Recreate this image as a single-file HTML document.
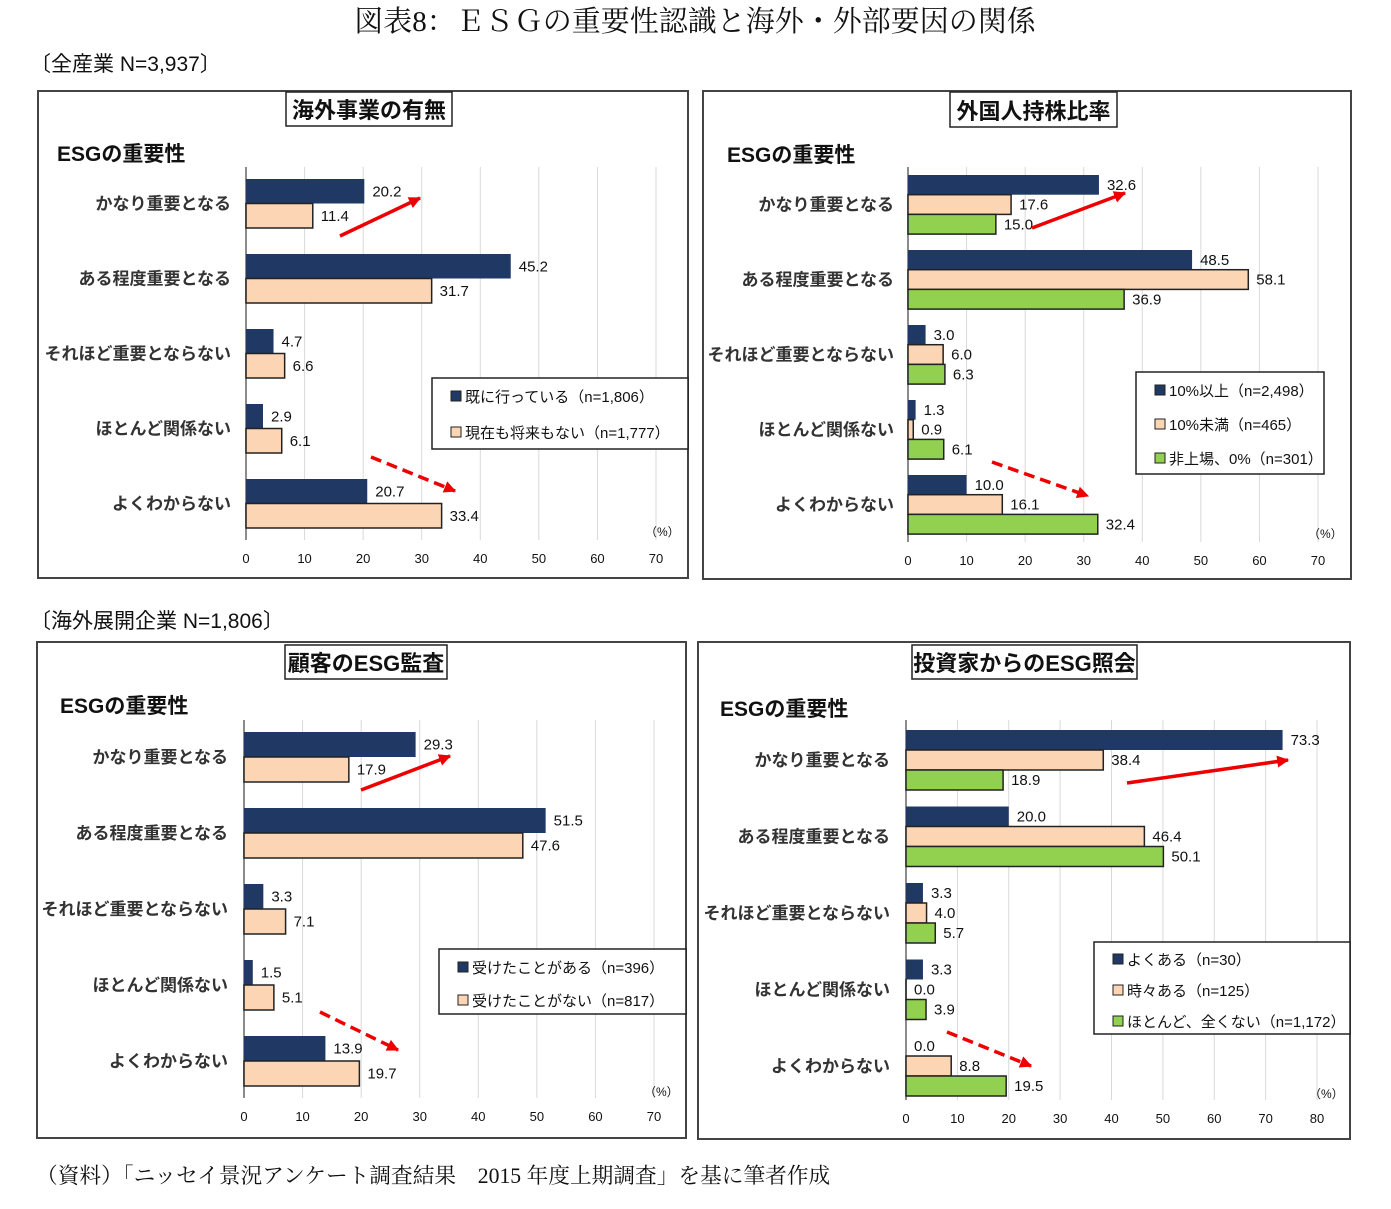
<!DOCTYPE html>
<html><head><meta charset="utf-8">
<style>
body{margin:0;background:#fff;}
svg{display:block;}
text{font-family:"Liberation Sans","Noto Sans CJK JP",sans-serif;}
.serif{font-family:"Liberation Serif","Noto Serif CJK SC",serif;}
</style></head>
<body>
<svg id="chart" width="1391" height="1209" viewBox="0 0 1391 1209" xmlns="http://www.w3.org/2000/svg">
<defs>
<marker id="ah2" viewBox="0 0 10 10" markerWidth="14" markerHeight="12" refX="9" refY="5" orient="auto" markerUnits="userSpaceOnUse"><path d="M0,0 L10,5 L0,10 Z" fill="#e00"/></marker>
</defs>
<text class="serif" x="695" y="31" text-anchor="middle" font-size="29" fill="#111">図表8：ＥＳＧの重要性認識と海外・外部要因の関係</text>
<text x="30" y="71" font-size="21" fill="#111">〔全産業 N=3,937〕</text>
<text x="30" y="628" font-size="21" fill="#111">〔海外展開企業 N=1,806〕</text>
<text class="serif" x="36" y="1183" font-size="21.7" fill="#111">（資料）「ニッセイ景況アンケート調査結果　2015 年度上期調査」を基に筆者作成</text>
<g id="panels"></g>
</svg>
<script>
const categories = ["かなり重要となる","ある程度重要となる","それほど重要とならない","ほとんど関係ない","よくわからない"];
const p1Doing = [20.2,45.2,4.7,2.9,20.7];
const p1None = [11.4,31.7,6.6,6.1,33.4];
const p2High = [32.6,48.5,3.0,1.3,10.0];
const p2Low = [17.6,58.1,6.0,0.9,16.1];
const p2Unlisted = [15.0,36.9,6.3,6.1,32.4];
const p3Audited = [29.3,51.5,3.3,1.5,13.9];
const p3NotAudited = [17.9,47.6,7.1,5.1,19.7];
const p4Often = [73.3,20.0,3.3,3.3,0.0];
const p4Some = [38.4,46.4,4.0,0.0,8.8];
const p4Never = [18.9,50.1,5.7,3.9,19.5];
const ticks70 = [0,10,20,30,40,50,60,70];
const ticks80 = [0,10,20,30,40,50,60,70,80];
const legend1 = ["既に行っている（n=1,806）","現在も将来もない（n=1,777）"];
const legend2 = ["10%以上（n=2,498）","10%未満（n=465）","非上場、0%（n=301）"];
const legend3 = ["受けたことがある（n=396）","受けたことがない（n=817）"];
const legend4 = ["よくある（n=30）","時々ある（n=125）","ほとんど、全くない（n=1,172）"];

const NS="http://www.w3.org/2000/svg";
const root=document.getElementById('panels');
function mk(tag,attrs,parent,txt){const e=document.createElementNS(NS,tag);for(const k in attrs)e.setAttribute(k,attrs[k]);if(txt!==undefined)e.textContent=txt;parent.appendChild(e);return e;}
const fills=["#1f3864","#fcd5b5","#92d050"];

function panel(c){
  const g=mk('g',{},root);
  
  
  const box=mk('rect',{x:c.box[0],y:c.box[1],width:c.box[2]-c.box[0],height:c.box[3]-c.box[1],fill:'none',stroke:'#444','stroke-width':2},g);
  
  
  const tb=mk('rect',{x:c.tbox[0],y:c.tbox[1],width:c.tbox[2]-c.tbox[0],height:c.tbox[3]-c.tbox[1],fill:'#fff',stroke:'#222','stroke-width':1.5},g);
  
  
  const tt=mk('text',{x:(c.tbox[0]+c.tbox[2])/2,y:c.tbox[3]-8,'text-anchor':'middle','font-size':22,'font-weight':'bold',fill:'#111'},g,c.title);
  
  
  const yt=mk('text',{x:c.esg[0],y:c.esg[1],'font-size':21,'font-weight':'bold',fill:'#111'},g,'ESGの重要性');
  
  
  const xs=v=>c.x0+(v/c.max)*(c.x1-c.x0);
  c.ticks.forEach(t=>{
    if(t>0){const gl=mk('line',{x1:xs(t),x2:xs(t),y1:c.gy[0],y2:c.gy[1],stroke:'#d9d9d9','stroke-width':1},g);
    
    }
    const tl=mk('text',{x:xs(t),y:c.gy[1]+23,'text-anchor':'middle','font-size':13,fill:'#111'},g,t);
    
    
  });
  const ax=mk('line',{x1:c.x0,x2:c.x0,y1:c.gy[0],y2:c.gy[1],stroke:'#666','stroke-width':1.5},g);
  
  
  const pu=mk('text',{x:c.pct[0],y:c.pct[1],'font-size':12,fill:'#111'},g,'（%）');
  
  
  const n=c.series.length;
  categories.forEach((cat,i)=>{
    const top=c.top+i*c.sp;
    const cl=mk('text',{x:c.lx,y:top+n*c.bh/2+6,'text-anchor':'end','font-size':17,'font-weight':'bold',fill:'#333'},g,cat);
    
    
    c.series.forEach((s,j)=>{
      const v=s[i];const y=top+j*c.bh;
      const r=mk('rect',{x:c.x0,y:y,width:Math.max(xs(v)-c.x0,0.01),height:c.bh,fill:fills[j],stroke:j?'#222':'none','stroke-width':1.5},g);
      
      
      const vl=mk('text',{x:xs(v)+8,y:y+c.bh/2+5,'font-size':15,fill:'#111'},g,v.toFixed(1));
      
      
    });
  });
  const L=c.leg;
  const lb=mk('rect',{x:L.x,y:L.y,width:L.w,height:L.h,fill:'#fff',stroke:'#222','stroke-width':1.5},g);
  
  
  c.legend.forEach((t,j)=>{
    const yy=L.y+L.first+j*L.step;
    const sw=mk('rect',{x:L.x+19,y:yy-11,width:10,height:10,fill:fills[j],stroke:'#222','stroke-width':1},g);
    
    
    const lt=mk('text',{x:L.x+33,y:yy,'font-size':15,fill:'#111'},g,t);
    
    
  });
  c.arrows.forEach((a,k)=>{
    const l=mk('line',{x1:a[0],y1:a[1],x2:a[2],y2:a[3],stroke:'#e00','stroke-width':3.5,'marker-end':'url(#ah2)'},g);
    if(a[4])l.setAttribute('stroke-dasharray','11 6');
    
    
  });
}

panel({name:'panel-overseas-business',box:[38,91,688,578],tbox:[286,92,452,126],title:'海外事業の有無',esg:[57,161],
  x0:246,x1:656,max:70,ticks:ticks70,gy:[167,540],pct:[645,536],top:179,sp:75,bh:24.5,lx:231,
  series:[p1Doing,p1None],legend:legend1,leg:{x:432,y:378,w:256,h:71,first:24,step:36},
  arrows:[[340,236,420,198,0],[371,457,455,491,1]]});
panel({name:'panel-foreign-ownership',box:[703,91,1351,579],tbox:[950,92,1117,127],title:'外国人持株比率',esg:[727,162],
  x0:908,x1:1318,max:70,ticks:ticks70,gy:[167,542],pct:[1308,538],top:175,sp:75,bh:19.7,lx:894,
  series:[p2High,p2Low,p2Unlisted],legend:legend2,leg:{x:1136,y:372,w:188,h:102,first:24,step:34},
  arrows:[[1032,228,1125,193,0],[992,462,1088,496,1]]});
panel({name:'panel-customer-audit',box:[37,642,686,1138],tbox:[285,645,447,679],title:'顧客のESG監査',esg:[60,713],
  x0:244,x1:654,max:70,ticks:ticks70,gy:[720,1098],pct:[644,1096],top:732,sp:76,bh:25,lx:228,
  series:[p3Audited,p3NotAudited],legend:legend3,leg:{x:439,y:949,w:247,h:65,first:24,step:33},
  arrows:[[361,790,450,756,0],[320,1012,398,1050,1]]});
panel({name:'panel-investor-inquiry',box:[698,642,1350,1139],tbox:[912,645,1137,679],title:'投資家からのESG照会',esg:[720,716],
  x0:906,x1:1317,max:80,ticks:ticks80,gy:[720,1100],pct:[1309,1098],top:730,sp:76.5,bh:20,lx:890,
  series:[p4Often,p4Some,p4Never],legend:legend4,leg:{x:1094,y:942,w:256,h:92,first:23,step:31},
  arrows:[[1127,783,1288,760,0],[947,1032,1031,1066,1]]});
</script>
</body></html>
